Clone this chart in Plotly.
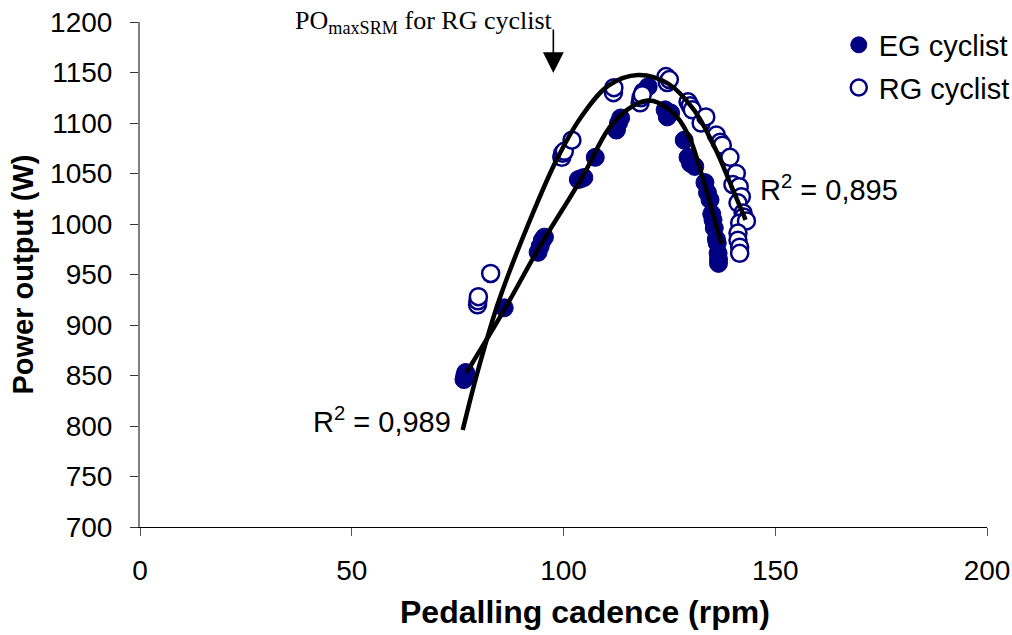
import plotly.graph_objects as go

# EG cyclist (filled markers)
eg_cadence = [76.5, 76.7, 76.9, 86.0, 94.0, 94.5, 95.0, 95.5, 103.5, 104.2, 104.8, 107.5,
              112.5, 113.0, 113.5, 118.8, 120.0, 124.0, 124.5, 125.3, 128.5, 129.4, 130.0,
              131.0, 133.4, 134.0, 134.6, 135.0, 135.3, 135.6, 136.1, 136.3, 136.5, 136.6, 136.6]
eg_power = [846, 850, 853, 917, 972, 978, 984, 987, 1044, 1045, 1046, 1066,
            1093, 1100, 1105, 1131, 1136, 1113, 1106, 1110, 1083, 1066, 1060,
            1057, 1041, 1031, 1024, 1010, 1004, 996, 985, 981, 971, 965, 961]

# RG cyclist (open markers)
rg_cadence = [79.7, 79.8, 79.9, 82.8, 99.6, 99.8, 100.2, 102.0, 111.8, 111.9, 118.1, 118.3,
              118.6, 124.2, 124.5, 125.0, 129.4, 129.9, 130.4, 132.5, 133.6, 136.1, 137.0,
              137.5, 139.3, 140.8, 140.0, 141.5, 142.0, 141.2, 142.4, 142.5, 141.6, 143.2,
              141.2, 141.2, 141.6, 141.6]
rg_power = [920, 924, 928, 951, 1066, 1070, 1072, 1083, 1130, 1135, 1120, 1125,
            1128, 1146, 1140, 1143, 1121, 1117, 1113, 1100, 1106, 1088, 1081,
            1078, 1066, 1050, 1039, 1037, 1027, 1021, 1011, 1007, 1001, 1003,
            991, 984, 977, 971]

# Trend lines
eg_fit_x = [77.1, 86, 94.3, 104.5, 110.6, 115, 119.5, 122.4, 127, 130, 132, 134.5, 137.3]
eg_fit_y = [853, 915, 977, 1047, 1094, 1113, 1122, 1120, 1105, 1083, 1058, 1022, 980]
rg_fit_x = [76.2, 80, 84.9, 92.7, 98.3, 104, 110.6, 117.6, 124.7, 130.8, 135.8, 139.6, 143]
rg_fit_y = [796, 858, 926, 1010, 1063, 1105, 1137, 1147.5, 1139, 1113, 1075, 1038, 1004]

x_ticks = [0, 50, 100, 150, 200]
y_ticks = [700, 750, 800, 850, 900, 950, 1000, 1050, 1100, 1150, 1200]

NAVY = "#000080"
SANS = "Liberation Sans, Arial, sans-serif"
SERIF = "Liberation Serif, Times New Roman, serif"

fig = go.Figure()
fig.add_trace(go.Scatter(
    x=eg_cadence, y=eg_power, mode="markers", name="EG cyclist",
    legendgroup="eg",
    marker=dict(symbol="circle", size=18, color=NAVY, line=dict(color=NAVY, width=1)),
))
fig.add_trace(go.Scatter(
    x=rg_cadence, y=rg_power, mode="markers", name="RG cyclist",
    legendgroup="rg",
    marker=dict(symbol="circle", size=17, color="white", line=dict(color=NAVY, width=2.5)),
))
fig.add_trace(go.Scatter(
    x=eg_fit_x, y=eg_fit_y, mode="lines", line=dict(color="black", width=4.5, shape="spline"),
    showlegend=False, hoverinfo="skip",
))
fig.add_trace(go.Scatter(
    x=rg_fit_x, y=rg_fit_y, mode="lines", line=dict(color="black", width=4.5, shape="spline"),
    showlegend=False, hoverinfo="skip",
))

fig.add_annotation(x=73.9, y=806, xref="x", yref="y", text="R<sup>2</sup> = 0,989",
                   showarrow=False, xanchor="right", yanchor="middle",
                   font=dict(family=SANS, size=29, color="black"))
fig.add_annotation(x=146.0, y=1036, xref="x", yref="y", text="R<sup>2</sup> = 0,895",
                   showarrow=False, xanchor="left", yanchor="middle",
                   font=dict(family=SANS, size=29, color="black"))
fig.add_annotation(x=36.1, y=1200, xref="x", yref="y",
                   text="PO<sub>maxSRM</sub> for RG cyclist",
                   showarrow=False, xanchor="left", yanchor="middle",
                   font=dict(family=SERIF, size=26, color="black"))
fig.add_annotation(x=97.6, y=1149.5, xref="x", yref="y", ax=97.6, ay=1194,
                   axref="x", ayref="y", text="", showarrow=True,
                   arrowhead=2, arrowsize=2.6, arrowwidth=1.6, arrowcolor="black")
# x-axis title (offset to the right of the plot centre, as in the original)
fig.add_annotation(x=0.525, y=-0.168, xref="paper", yref="paper",
                   text="<b>Pedalling cadence (rpm)</b>", showarrow=False,
                   xanchor="center", yanchor="middle",
                   font=dict(family=SANS, size=32, color="black"))

fig.update_layout(
    width=1012, height=635,
    margin=dict(l=140, r=25, t=22, b=108, autoexpand=False),
    paper_bgcolor="white", plot_bgcolor="white",
    font=dict(family=SANS, size=28, color="black"),
    showlegend=True,
    legend=dict(x=0.825, y=1.005, xanchor="left", yanchor="top",
                font=dict(family=SANS, size=29, color="black"),
                bgcolor="rgba(0,0,0,0)", traceorder="grouped", tracegroupgap=2),
    xaxis=dict(range=[0, 200], tickvals=x_ticks, ticktext=[str(v) for v in x_ticks],
               automargin=False,
               showgrid=False, zeroline=False, showline=True, linecolor="black", linewidth=1,
               ticks="outside", ticklen=8, tickcolor="#555555", ticklabelstandoff=10,
               tickfont=dict(family=SANS, size=28)),
    yaxis=dict(range=[700, 1200], tickvals=y_ticks, ticktext=[str(v) for v in y_ticks],
               automargin=False,
               showgrid=False, zeroline=False, showline=True, linecolor="#808080", linewidth=2,
               ticks="outside", ticklen=8, tickcolor="#333333", ticklabelstandoff=12,
               tickfont=dict(family=SANS, size=28),
               title=dict(text="<b>Power output (W)</b>", standoff=8,
                          font=dict(family=SANS, size=29))),
)

fig.write_html("out.html")
